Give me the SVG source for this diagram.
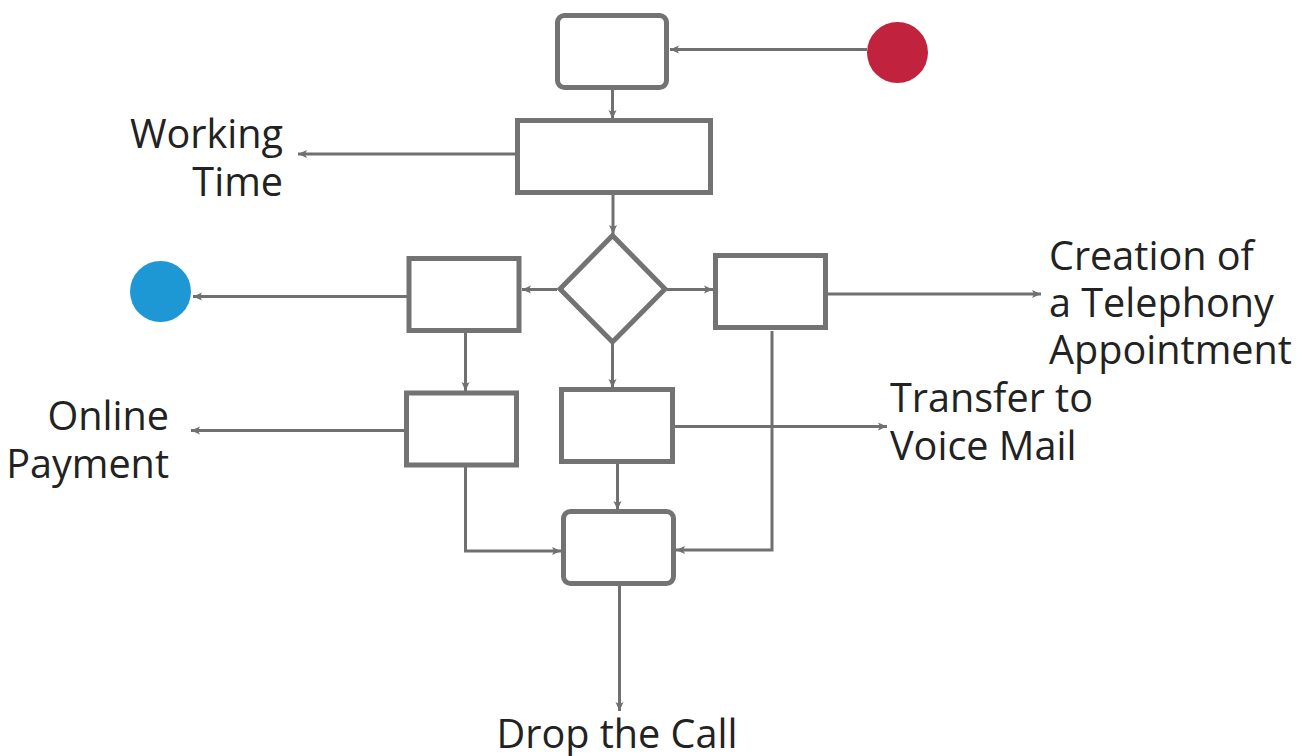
<svg xmlns="http://www.w3.org/2000/svg" width="1307" height="756" viewBox="0 0 1307 756">
<style>
.box{fill:#fff;stroke:#737373;stroke-width:5}
.ln{fill:none;stroke:#707070;stroke-width:3}
.lbl{font-family:"Open Sans","Noto Sans","Liberation Sans",sans-serif;font-size:39.6px;fill:#222}
</style>
<defs>
<marker id="ah" markerUnits="userSpaceOnUse" markerWidth="12" markerHeight="12" viewBox="0 0 12 12" refX="10" refY="6" orient="auto">
<path d="M1,2 L10,6 L1,10 L3,6 Z" fill="#707070"/>
</marker>
</defs>
<rect width="1307" height="756" fill="#fff"/>
<g id="connectors">
<line class="ln" x1="867" y1="49.5" x2="670" y2="49.5" marker-end="url(#ah)"/>
<line class="ln" x1="612.5" y1="90" x2="612.5" y2="119" marker-end="url(#ah)"/>
<line class="ln" x1="515" y1="154" x2="298" y2="154" marker-end="url(#ah)"/>
<line class="ln" x1="613" y1="195" x2="613" y2="234" marker-end="url(#ah)"/>
<line class="ln" x1="557" y1="289.5" x2="522" y2="289.5" marker-end="url(#ah)"/>
<line class="ln" x1="667" y1="289.5" x2="713" y2="289.5" marker-end="url(#ah)"/>
<line class="ln" x1="828" y1="294" x2="1041" y2="294" marker-end="url(#ah)"/>
<line class="ln" x1="407" y1="296.5" x2="193" y2="296.5" marker-end="url(#ah)"/>
<line class="ln" x1="465.5" y1="333" x2="465.5" y2="391" marker-end="url(#ah)"/>
<line class="ln" x1="612.5" y1="343" x2="612.5" y2="388" marker-end="url(#ah)"/>
<line class="ln" x1="404" y1="430.5" x2="191" y2="430.5" marker-end="url(#ah)"/>
<line class="ln" x1="675" y1="426.5" x2="887" y2="426.5" marker-end="url(#ah)"/>
<polyline class="ln" points="465.5,467 465.5,551 561,551" marker-end="url(#ah)"/>
<line class="ln" x1="617.5" y1="464" x2="617.5" y2="510" marker-end="url(#ah)"/>
<polyline class="ln" points="772,331 772,550 676,550" marker-end="url(#ah)"/>
<line class="ln" x1="619.5" y1="586" x2="619.5" y2="711" marker-end="url(#ah)"/>
</g>
<g id="start"><circle cx="897.5" cy="52.5" r="30.5" fill="#c1223e"/></g>
<g id="end-blue"><circle cx="160.5" cy="291.5" r="30.5" fill="#1d98d4"/></g>
<g id="n1"><rect class="box" x="557.5" y="15.5" width="109" height="72" rx="7"/></g>
<g id="n2"><rect class="box" x="517.5" y="120.5" width="193" height="72"/></g>
<g id="decision"><polygon class="box" points="612.5,235.5 665,289 612.5,342 560,289"/></g>
<g id="n-left"><rect class="box" x="409" y="258.5" width="110" height="72"/></g>
<g id="n-right"><rect class="box" x="715.5" y="255.5" width="110" height="72"/></g>
<g id="n-lowleft"><rect class="box" x="406.5" y="393" width="110" height="72"/></g>
<g id="n-mid"><rect class="box" x="561.5" y="389.5" width="111" height="72"/></g>
<g id="n-bottom"><rect class="box" x="563.5" y="511.5" width="110" height="72" rx="7"/></g>
<g id="labels">
<text class="lbl" text-anchor="end" x="283" y="148">Working</text>
<text class="lbl" text-anchor="end" x="283" y="196">Time</text>
<text class="lbl" text-anchor="end" x="169" y="430">Online</text>
<text class="lbl" text-anchor="end" x="169" y="478">Payment</text>
<text class="lbl" x="1049" y="270">Creation of</text>
<text class="lbl" x="1049" y="317">a Telephony</text>
<text class="lbl" x="1049" y="364">Appointment</text>
<text class="lbl" x="890" y="412">Transfer to</text>
<text class="lbl" x="890" y="460">Voice Mail</text>
<text class="lbl" text-anchor="middle" x="617" y="748">Drop the Call</text>
</g>
</svg>
